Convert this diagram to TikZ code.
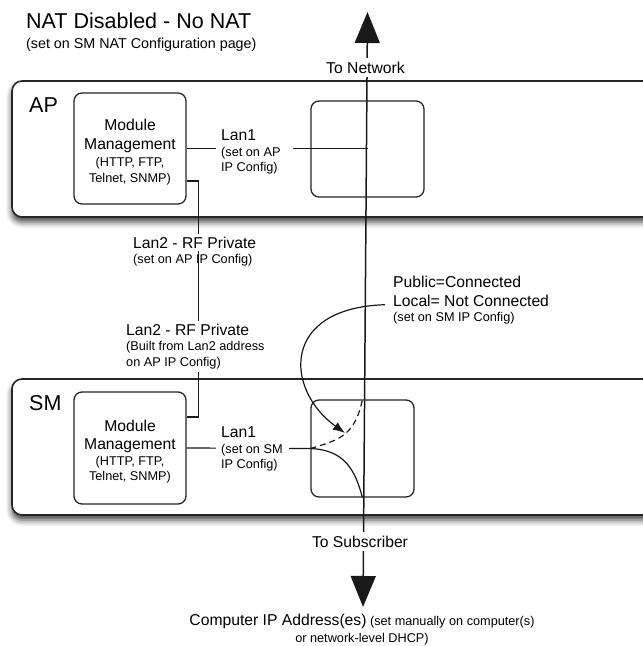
\documentclass[tikz,border=0pt]{standalone}
\usepackage{fontspec}
\setmainfont{Liberation Sans}
\usetikzlibrary{arrows.meta,shadows.blur}
\newcommand\txthuge{\fontsize{21.5}{24}\selectfont}
\newcommand\txtmid{\fontsize{15.7}{18}\selectfont}
\newcommand\txtsmall{\fontsize{12.7}{15.5}\selectfont}
\tikzset{
  unitframe/.style={draw=black!85, line width=1.6pt, rounded corners=10pt, fill=white,
    blur shadow={shadow xshift=0pt, shadow yshift=-5pt, shadow blur radius=6pt, shadow opacity=75}},
  modbox/.style={draw=black!85, line width=1.3pt, rounded corners=8pt, inner sep=0pt,
    align=center, font=\txtsmall},
  lbl/.style={inner sep=0pt, align=left, font=\txtsmall},
  wlbl/.style={lbl, fill=white, inner xsep=5pt, inner ysep=3pt},
  wire/.style={line width=1.2pt, black!90},
}
\begin{document}
\begin{tikzpicture}[x=1pt, y=-1pt]
\useasboundingbox (0,0) rectangle (643,646);
\def\apframe{(12,81) rectangle (664,217)}
\def\smframe{(12,379) rectangle (664,515)}

\draw[unitframe] \apframe;
\draw[unitframe] \smframe;

\node[anchor=base west, inner sep=0pt, font=\txthuge] (title) at (26,28) {NAT Disabled - No NAT};
\node[anchor=base west, inner sep=0pt, font=\fontsize{14.3}{16}\selectfont] (titlenote) at (26,48)
	{(set on SM NAT Configuration page)};
\node[anchor=base west, inner sep=0pt, font=\txthuge] (aptag) at (29,112) {AP};
\node[anchor=base west, inner sep=0pt, font=\txthuge] (smtag) at (29,410) {SM};

% path to network and subscriber
\coordinate (nettop) at (367.5,12);
\coordinate (subbot) at (363,607);
\draw[wire, line width=1.5pt, {Triangle[length=31pt,width=25pt]}-{Triangle[length=31pt,width=25pt]}]
	(subbot) -- (nettop);

\node[modbox, minimum width=112pt, minimum height=111pt] (apmm) at (130,148.5)
	{\rule{0pt}{19pt}{\txtmid Module}\\[3.5pt]{\txtmid Management}\\[1.5pt](HTTP, FTP,\\Telnet, SNMP)};
\node[modbox, minimum width=113pt, minimum height=96pt] (apsw) at (367.5,149) {};
\node[modbox, minimum width=112pt, minimum height=112pt] (smmm) at (130,448)
	{\rule{0pt}{19pt}{\txtmid Module}\\[2.5pt]{\txtmid Management}\\(HTTP, FTP,\\Telnet, SNMP)};
\node[modbox, minimum width=103pt, minimum height=97pt] (smsw) at (362.5,448.5) {};

% Lan1 links
\draw[wire] (apmm.east) -- (apmm.east -| nettop);
\node[wlbl, anchor=north west, inner xsep=5pt] (aplan) at (216,126.5) {{\txtmid Lan1}\\(set on AP\\IP Config)\hspace*{10pt}};
\draw[wire] (smmm.east) -- (smsw.west);
\node[wlbl, anchor=north west] (smlan) at (216,423.5) {{\txtmid Lan1}\\(set on SM\\IP Config)\hspace*{6pt}};

% Lan2 link
\draw[wire] ([yshift=-32.5pt]apmm.east) -- ++(12,0) |- ([yshift=31pt]smmm.east);
\node[wlbl, anchor=base west, inner xsep=3pt, font=\txtmid] (lan2ap) at (130,248) {Lan2 - RF Private};
\node[lbl, anchor=base west] (lan2apnote) at (133,263) {(set on AP IP Config)};
\node[wlbl, anchor=north west, inner xsep=3pt] (lan2sm) at (123,320.7)
	{{\txtmid Lan2 - RF Private}\\(Built from Lan2 address\\on AP IP Config)};

% public / local setting
\node[lbl, anchor=north west] (pubnote) at (393,275.7)
	{{\txtmid Public=Connected}\\[3.5pt]{\txtmid Local= Not Connected}\\(set on SM IP Config)};
\draw[wire, -{Latex[length=12pt,width=9pt]}] ([shift={(-8,29)}]pubnote.north west)
	.. controls (280,308) and (285,390) .. ([shift={(-17.5,-15.5)}]smsw.center);
\draw[wire, dash pattern=on 6pt off 4pt] (smsw.west) .. controls (340,440) and (355,435) .. (smsw.north);
\draw[wire] (smsw.west) .. controls (345,450) and (355,470) .. (smsw.south);

\node[fill=white, inner xsep=2pt, inner ysep=4pt, anchor=base, font=\txtmid] (tonet) at (365.5,73) {To Network};
\node[fill=white, inner xsep=9pt, inner ysep=4pt, anchor=base, font=\txtmid] (tosub) at (360,547) {To Subscriber};

\node[lbl, align=center, anchor=north, font=\fontsize{12.7}{17}\selectfont] (hostip) at (362,613.5)
	{{\txtmid Computer IP Address(es)} (set manually on computer(s)\\or network-level DHCP)};
\end{tikzpicture}
\end{document}
